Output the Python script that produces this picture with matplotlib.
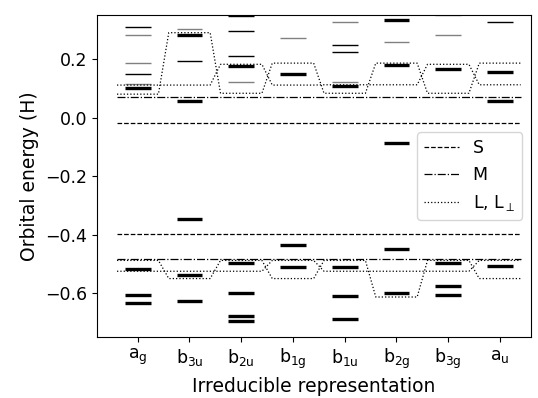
import matplotlib
matplotlib.use('Agg')
import matplotlib.pyplot as plt

irreps = ['a_g', 'b_3u', 'b_2u', 'b_1g', 'b_1u', 'b_2g', 'b_3g', 'a_u']

# thick levels
strong = {
    'a_g': [0.102, -0.516, -0.606, -0.633],
    'b_3u': [0.282, 0.057, -0.347, -0.538, -0.627],
    'b_2u': [0.175, -0.496, -0.601, -0.678, -0.695],
    'b_1g': [0.148, -0.437, -0.509],
    'b_1u': [0.108, -0.512, -0.611, -0.689],
    'b_2g': [0.332, 0.179, -0.087, -0.450, -0.599],
    'b_3g': [0.167, -0.497, -0.576, -0.606],
    'a_u': [0.155, 0.055, -0.508],
}
# thin black levels
weak = {
    'a_g': [0.310, 0.150],
    'b_3u': [0.193],
    'b_2u': [0.346, 0.297, 0.209],
    'b_1g': [],
    'b_1u': [0.249, 0.224],
    'b_2g': [],
    'b_3g': [],
    'a_u': [0.328],
}
# thin grey levels
faint = {
    'a_g': [0.281, 0.185, 0.116],
    'b_3u': [0.301],
    'b_2u': [0.123],
    'b_1g': [0.272],
    'b_1u': [0.325, 0.120],
    'b_2g': [0.257],
    'b_3g': [0.349, 0.281],
    'a_u': [],
}

S_levels = [-0.019, -0.399]
M_levels = [0.070, -0.482]
# L and L_perp, upper and lower clusters
L_upper_1 = [0.080, 0.290, 0.083, 0.186, 0.083, 0.186, 0.083, 0.186]
L_upper_2 = [0.111, 0.111, 0.182, 0.111, 0.112, 0.112, 0.182, 0.112]
L_lower_1 = [-0.488, -0.550, -0.488, -0.550, -0.488, -0.613, -0.488, -0.550]
L_lower_2 = [-0.525, -0.525, -0.525, -0.488, -0.525, -0.525, -0.525, -0.488]

fig = plt.figure(figsize=(5.38, 3.98), dpi=100)
ax = fig.add_axes([0.180, 0.153, 0.807, 0.809])

hw = 0.25
for i, name in enumerate(irreps):
    for e in faint[name]:
        ax.plot([i - hw, i + hw], [e, e], color='grey', lw=1.0, solid_capstyle='butt')
    for e in weak[name]:
        ax.plot([i - hw, i + hw], [e, e], color='black', lw=1.0, solid_capstyle='butt')
    for e in strong[name]:
        ax.plot([i - hw, i + hw], [e, e], color='black', lw=2.4, solid_capstyle='butt')

n = len(irreps)
for k, e in enumerate(S_levels):
    ax.plot([-0.4, n - 0.6], [e, e], 'k--', lw=0.9, label='S' if k == 0 else None)
for k, e in enumerate(M_levels):
    ax.plot([-0.4, n - 0.6], [e, e], 'k-.', lw=0.9, label='M' if k == 0 else None)

pw = 0.4
for k, series in enumerate([L_upper_1, L_upper_2, L_lower_1, L_lower_2]):
    xs, ys = [], []
    for i, v in enumerate(series):
        xs += [i - pw, i + pw]
        ys += [v, v]
    ax.plot(xs, ys, 'k:', lw=0.9, label=r'L, L$_\perp$' if k == 0 else None)

ax.set_xticks(range(n))
ax.set_xticklabels([r'$\mathregular{' + s[0] + '_{' + s[2:] + '}}$' for s in irreps], fontsize=12.5)
ax.set_xlim(-0.79, 7.6)
ax.set_ylim(-0.75, 0.35)
ax.set_yticks([0.2, 0.0, -0.2, -0.4, -0.6])
ax.tick_params(axis='y', labelsize=12.5)
ax.set_xlabel('Irreducible representation', fontsize=13.5)
ax.set_ylabel('Orbital energy (H)', fontsize=13.5)
ax.legend(loc='center right', fontsize=12.5)

plt.savefig('out.png', dpi=100)
